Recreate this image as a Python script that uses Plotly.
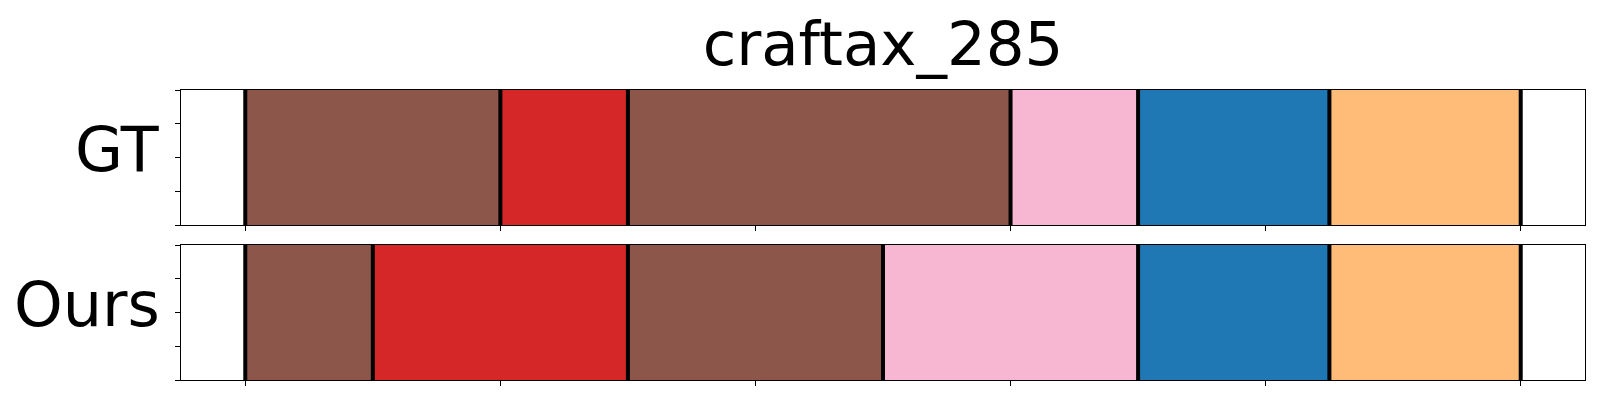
import plotly.graph_objects as go
from plotly.subplots import make_subplots

title = "craftax_285"
row_labels = ["GT", "Ours"]

# segment boundaries (in x units) and colours per row
gt_bounds = [0, 1, 1.5, 3, 3.5, 4.25, 5]
gt_colors = ["#8c564b", "#d62728", "#8c564b", "#f7b6d2", "#1f77b4", "#ffbb78"]
ours_bounds = [0, 0.5, 1.5, 2.5, 3.5, 4.25, 5]
ours_colors = ["#8c564b", "#d62728", "#8c564b", "#f7b6d2", "#1f77b4", "#ffbb78"]

x_ticks = [0, 1, 2, 3, 4, 5]
y_ticks = [0, 0.25, 0.5, 0.75, 1]

rows = [(gt_bounds, gt_colors), (ours_bounds, ours_colors)]

fig = make_subplots(rows=2, cols=1, vertical_spacing=20 / 290)

for r, (bounds, colors) in enumerate(rows, start=1):
    for i, c in enumerate(colors):
        fig.add_trace(go.Bar(
            orientation="h", y=[0.5], x=[bounds[i + 1] - bounds[i]], base=[bounds[i]],
            width=1, marker=dict(color=c, line=dict(width=0)), showlegend=False,
            hoverinfo="skip"), row=r, col=1)
    lx, ly = [], []
    for b in bounds:
        lx += [b, b, None]
        ly += [0, 1, None]
    fig.add_trace(go.Scatter(x=lx, y=ly, mode="lines", line=dict(color="black", width=4),
                             showlegend=False, hoverinfo="skip"), row=r, col=1)

axis_common = dict(showline=True, linecolor="black", linewidth=1.3, mirror=True,
                   ticks="outside", ticklen=5, tickwidth=1, tickcolor="black",
                   showgrid=False, zeroline=False, showticklabels=False)
for r in (1, 2):
    fig.update_xaxes(range=[-0.252, 5.252], tickvals=x_ticks, row=r, col=1, **axis_common)
    fig.update_yaxes(range=[0, 1], tickvals=y_ticks, row=r, col=1, **axis_common)

fig.update_layout(
    width=1600, height=400, barmode="overlay", bargap=0,
    plot_bgcolor="white", paper_bgcolor="white",
    margin=dict(l=173, r=23, t=82, b=28),
    font=dict(family="DejaVu Sans", color="black"),
    title=dict(text=title, x=0.5, xref="paper", xanchor="center",
               y=0.912, yref="container", yanchor="middle",
               font=dict(size=61, family="DejaVu Sans", color="black")),
)

for r, lab in enumerate(row_labels, start=1):
    yref = "y domain" if r == 1 else "y2 domain"
    fig.add_annotation(text=lab, xref="paper", x=0, xshift=-19, xanchor="right",
                       yref=yref, y=0.5, yanchor="middle", yshift=8, showarrow=False,
                       font=dict(size=62, family="DejaVu Sans", color="black"))

fig.write_html("out.html")
